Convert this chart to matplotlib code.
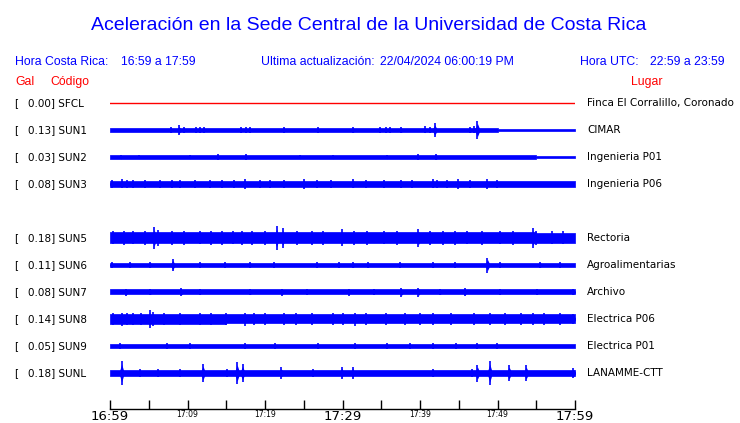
import numpy as np
import matplotlib.pyplot as plt
from matplotlib import transforms

# estaciones (de arriba hacia abajo), la fila 4 queda vacia
codes = ["SFCL", "SUN1", "SUN2", "SUN3", "SUN5", "SUN6", "SUN7", "SUN8", "SUN9", "SUNL"]
places = ["Finca El Corralillo, Coronado", "CIMAR", "Ingenieria P01", "Ingenieria P06",
          "Rectoria", "Agroalimentarias", "Archivo", "Electrica P06", "Electrica P01", "LANAMME-CTT"]
gal = [0.00, 0.13, 0.03, 0.08, 0.18, 0.11, 0.08, 0.14, 0.05, 0.18]
rows = [0, 1, 2, 3, 5, 6, 7, 8, 9, 10]

# minutos desde 16:59
tick_min = list(range(0, 61, 5))
tick_lab = ["16:59", "", "17:09", "", "17:19", "", "17:29", "", "17:39", "", "17:49", "", "17:59"]
big_labels = ["16:59", "17:29", "17:59"]

# amplitud del ruido de fondo por tramo de 5 min (px de traza)
base = {
    "SFCL": [0.0] * 12,
    "SUN1": [2.2] * 10 + [1.3, 1.2],
    "SUN2": [2.0] * 10 + [1.6, 1.2],
    "SUN3": [3.3] * 10 + [2.8, 2.6],
    "SUN5": [5.5] * 11 + [5.0],
    "SUN6": [2.3] * 12,
    "SUN7": [2.5] * 12,
    "SUN8": [5.0, 4.8, 4.6] + [4.5] * 9,
    "SUN9": [2.0] * 10 + [1.8, 1.8],
    "SUNL": [3.0] * 12,
}

# picos: (minuto, amplitud)
spikes = {
    "SFCL": [],
    "SUN1": [(7.9, 2.8), (8.9, 4.7), (9.5, 3.0), (11.1, 2.8), (11.6, 2.8), (12.1, 2.8),
             (16.9, 2.8), (17.5, 2.8), (18.0, 2.8), (22.4, 3.2), (26.8, 2.8), (31.4, 2.8),
             (34.8, 2.6), (35.6, 2.8), (36.1, 2.6), (37.6, 2.8), (40.6, 3.5), (41.3, 2.8),
             (41.9, 7.0), (46.5, 3.0), (47.0, 3.5), (47.4, 9.0)],
    "SUN2": [(1.4, 2.4), (3.7, 2.3), (10.3, 2.3), (13.9, 2.8), (17.5, 2.8), (24.5, 2.3),
             (28.8, 2.3), (35.7, 2.3), (39.7, 2.8), (42.1, 2.8)],
    "SUN3": [(0.2, 4.0), (1.5, 4.5), (2.2, 3.9), (3.0, 3.9), (4.5, 3.9), (6.5, 3.9),
             (8.0, 3.9), (9.0, 3.9), (11.0, 3.9), (12.9, 3.9), (14.5, 3.9), (16.0, 3.9),
             (17.4, 5.0), (19.4, 3.9), (20.6, 4.2), (22.5, 3.9), (25.0, 5.0), (26.7, 4.0),
             (28.5, 3.9), (31.4, 4.5), (33.0, 3.9), (35.3, 3.9), (37.6, 4.0), (39.0, 3.9),
             (41.7, 4.5), (42.2, 4.2), (43.5, 3.9), (44.9, 5.0), (46.5, 3.9), (48.6, 5.0),
             (49.9, 4.0)],
    "SUN5": [(0.4, 6.5), (1.8, 6.8), (3.0, 6.5), (4.5, 6.8), (5.7, 11.0), (6.2, 8.0),
             (8.0, 6.8), (9.5, 6.8), (11.6, 6.5), (13.0, 6.8), (14.5, 6.8), (15.9, 6.5),
             (17.0, 6.8), (18.3, 7.0), (20.0, 6.8), (21.5, 12.0), (22.3, 10.0), (24.1, 7.0),
             (26.0, 6.8), (27.5, 6.8), (29.9, 8.5), (31.5, 6.8), (33.1, 7.0), (35.3, 6.5),
             (37.0, 6.8), (39.8, 9.0), (41.3, 7.0), (43.0, 6.8), (44.5, 6.8), (46.0, 6.5),
             (48.0, 6.8), (50.3, 6.5), (52.0, 6.8), (54.6, 10.0), (55.0, 7.0), (57.0, 6.5),
             (58.5, 6.5)],
    "SUN6": [(0.2, 3.0), (2.6, 2.8), (5.2, 2.8), (8.1, 6.0), (11.6, 2.8), (14.8, 3.2),
             (18.1, 2.8), (21.1, 2.8), (26.7, 2.8), (29.5, 3.2), (31.4, 2.8), (33.3, 3.2),
             (37.4, 2.8), (41.7, 2.8), (44.5, 2.8), (48.7, 7.5), (50.3, 2.8), (55.5, 3.2),
             (58.0, 2.8)],
    "SUN7": [(2.1, 3.5), (5.2, 3.2), (9.2, 4.0), (11.6, 3.2), (18.1, 3.2), (22.2, 3.5),
             (25.4, 3.2), (30.8, 3.5), (34.0, 3.2), (37.6, 4.5), (39.8, 4.5), (42.6, 3.2),
             (45.8, 4.0), (50.3, 3.2), (55.1, 3.2), (59.8, 3.2)],
    "SUN8": [(0.4, 6.0), (1.5, 6.5), (2.2, 6.0), (3.0, 6.0), (4.0, 6.0), (5.1, 9.0),
             (5.6, 7.0), (7.0, 6.0), (9.0, 5.8), (11.6, 5.8), (13.0, 5.8), (15.0, 5.8),
             (17.4, 6.5), (18.6, 6.0), (20.0, 5.8), (22.4, 5.8), (24.0, 5.6), (26.0, 5.6),
             (28.8, 5.6), (30.0, 5.6), (31.6, 6.5), (33.0, 5.6), (35.6, 5.6), (38.0, 5.6),
             (40.0, 5.6), (41.7, 5.6), (44.0, 5.6), (47.0, 5.6), (49.0, 5.6), (51.0, 5.8),
             (53.0, 5.6), (54.6, 5.6), (56.0, 5.6), (58.0, 5.6), (59.8, 5.2)],
    "SUN9": [(1.3, 2.8), (7.3, 2.6), (10.3, 2.6), (17.4, 2.6), (21.3, 2.5), (26.9, 2.5),
             (31.6, 2.8), (35.7, 2.5), (38.7, 2.6), (41.7, 2.6), (44.6, 2.6), (47.3, 2.5),
             (49.9, 2.5)],
    "SUNL": [(1.5, 12.0), (3.9, 4.0), (6.2, 4.5), (9.0, 4.0), (12.0, 9.0), (15.1, 4.0),
             (16.4, 11.0), (17.1, 9.0), (22.1, 5.5), (26.2, 4.0), (29.9, 6.0), (31.3, 6.0),
             (41.7, 4.5), (46.7, 4.0), (47.4, 8.5), (49.0, 12.0), (51.5, 8.0), (53.7, 8.0),
             (59.8, 5.0)],
}

BLUE = "#0000ff"
RED = "#ff0000"
W, H = 740, 423
ROW_PX = 27.0

fig = plt.figure(figsize=(7.4, 4.23), dpi=100)

# eje de trazas: de x=110 a x=575 px, fila 0 en y=103 px
top_px, bot_px = 90, 409
ax = fig.add_axes([110 / W, 1 - bot_px / H, 465 / W, (bot_px - top_px) / H])
ax.set_xlim(0, 60)
ax.set_ylim((bot_px - 103) / ROW_PX, (top_px - 103) / ROW_PX)

edges = np.array(tick_min, dtype=float)
for code, r in zip(codes, rows):
    if code == "SFCL":
        ax.plot([0, 60], [r, r], color=RED, lw=1)
        continue
    b = np.array(base[code] + [base[code][-1]]) / ROW_PX
    ax.fill_between(edges, r - b, r + b, step="post", color=BLUE, lw=0.5)
    for m, a in spikes[code]:
        a = a / ROW_PX
        ax.vlines(m, r - a, r + a, color=BLUE, lw=1.2)
        ax.fill_between([m - 0.35, m, m + 0.35], [r, r - 0.75 * a, r], [r, r + 0.75 * a, r],
                        color=BLUE, lw=0)

for s in ["left", "right", "top"]:
    ax.spines[s].set_visible(False)
ax.spines["bottom"].set_linewidth(1)
ax.set_yticks([])
ax.set_xticks(tick_min)
ax.set_xticklabels(tick_lab)
ax.tick_params(axis="x", direction="in", length=6.5, width=1, pad=1)
for t in ax.get_xticklabels():
    t.set_fontsize(9.5 if t.get_text() in big_labels else 5.5)

# etiquetas de filas
tr = transforms.blended_transform_factory(fig.transFigure, ax.transData)
for code, place, g, r in zip(codes, places, gal, rows):
    ax.text(14 / W, r, "[", transform=tr, fontsize=7.5, va="center")
    ax.text(28 / W, r, f"{g:.2f}] {code}", transform=tr, fontsize=7.5, va="center")
    ax.text(587 / W, r, place, transform=tr, fontsize=7.5, va="center")

# encabezado
hf = "Liberation Sans"
def ftxt(x, y, s, color, size=8.8, ha="left"):
    fig.text(x / W, 1 - y / H, s, color=color, fontsize=size, family=hf, ha=ha, va="baseline")

ftxt(369, 30, "Aceleración en la Sede Central de la Universidad de Costa Rica", BLUE, 14, "center")
ftxt(15, 65, "Hora Costa Rica:", BLUE)
ftxt(121.5, 65, "16:59 a 17:59", BLUE)
ftxt(261, 65, "Ultima actualización:", BLUE)
ftxt(380, 65, "22/04/2024 06:00:19 PM", BLUE)
ftxt(580.5, 65, "Hora UTC:", BLUE)
ftxt(650.5, 65, "22:59 a 23:59", BLUE)
ftxt(15, 85, "Gal", RED)
ftxt(50, 85, "Código", RED)
ftxt(630.5, 85, "Lugar", RED)

fig.savefig("out.png", dpi=100)
